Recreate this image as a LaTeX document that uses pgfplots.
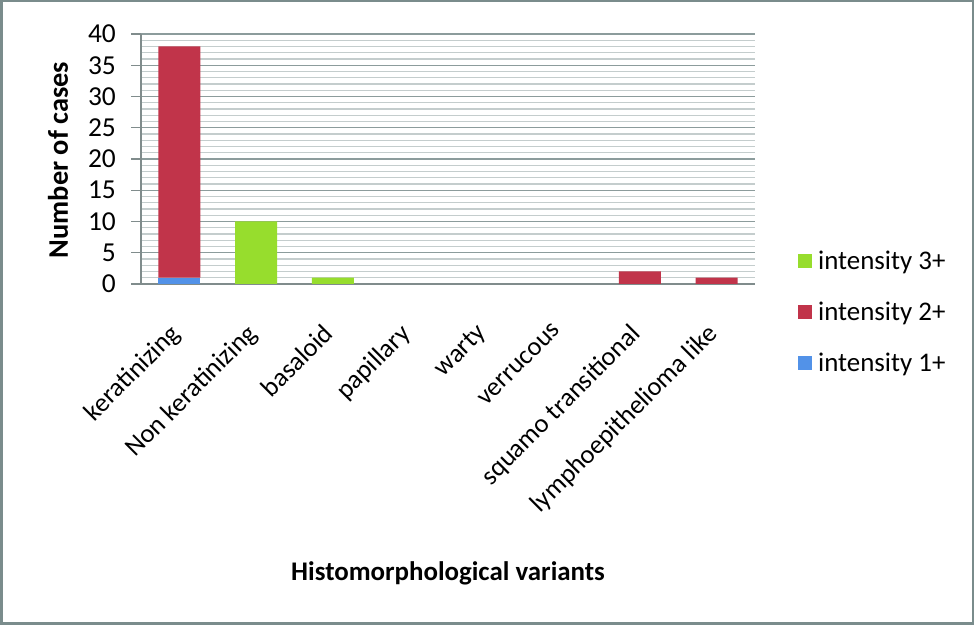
\documentclass[border=0pt]{standalone}
\usepackage{fontspec}
\setmainfont{Carlito}
\usepackage{pgfplots}
\pgfplotsset{compat=1.18}
\definecolor{cgreen}{RGB}{151,221,45}
\definecolor{cred}{RGB}{193,52,74}
\definecolor{cblue}{RGB}{82,146,232}
\definecolor{gridmaj}{RGB}{140,156,156}
\definecolor{gridmin}{RGB}{196,205,205}
\definecolor{framec}{RGB}{122,140,140}
\definecolor{axisc}{RGB}{128,140,140}
\begin{document}
\begin{tikzpicture}[x=1bp,y=1bp]
\useasboundingbox (0,0) rectangle (974,625);
\fill[white] (0,0) rectangle (974,625);
\begin{axis}[
  at={(141bp,341bp)}, anchor=south west,
  scale only axis, width=614bp, height=250bp,
  ybar stacked, bar width=42bp,
  xmin=-0.5, xmax=7.5, ymin=0, ymax=40,
  xtick={0,...,7},
  xticklabels={keratinizing,Non keratinizing,basaloid,papillary,warty,verrucous,squamo transitional,lymphoepithelioma like},
  ytick={0,5,...,40}, minor y tick num=4,
  ymajorgrids, yminorgrids,
  major grid style={color=gridmaj, line width=1.3bp},
  minor grid style={color=gridmin, line width=1.3bp},
  axis x line*=bottom, axis y line*=left,
  axis line style={color=axisc, line width=1.3bp},
  x tick style={draw=none},
  y tick style={color=axisc, line width=1.3bp},
  tick align=outside, major tick length=10bp, minor tick length=0bp,
  /pgf/number format/assume math mode=true,
  y tick label style={font=\fontsize{27.5}{32}\selectfont, text=black},
  yticklabel style={anchor=east, inner sep=0pt, xshift=-15bp},
  x tick label style={font=\fontsize{26.5}{31}\selectfont, text=black, xshift=-11bp, yshift=-28bp, rotate=45, anchor=north east, inner sep=0pt},
  xlabel={\bfseries Histomorphological variants},
  ylabel={\bfseries Number of cases},
  xlabel style={font=\fontsize{27}{32}\selectfont, at={(axis description cs:0.5,-1.156)}, anchor=center},
  ylabel style={font=\fontsize{28.5}{33}\selectfont, at={(axis description cs:-0.135,0.496)}, anchor=center},
  reverse legend,
  legend image code/.code={\fill[#1] (0bp,-7bp) rectangle (14bp,7bp);},
  legend style={at={(1.07,-0.112)}, anchor=west, draw=none, fill=none,
    font=\fontsize{27}{31}\selectfont, row sep=25bp, inner sep=0pt,
    nodes={inner sep=3bp},
    /tikz/every odd column/.append style={column sep=3bp}},
  legend cell align=left,
]
\addplot[fill=cblue, draw=none] coordinates {(0,1) (1,0) (2,0) (3,0) (4,0) (5,0) (6,0) (7,0)};
\addplot[fill=cred, draw=none] coordinates {(0,37) (1,0) (2,0) (3,0) (4,0) (5,0) (6,2) (7,1)};
\addplot[fill=cgreen, draw=none] coordinates {(0,0) (1,10) (2,1) (3,0) (4,0) (5,0) (6,0) (7,0)};
\legend{intensity 1+, intensity 2+, intensity 3+}
\end{axis}
\draw[color=framec, line width=2.5bp] (1.25,1.25) rectangle (972.75,623.75);
\end{tikzpicture}
\end{document}
